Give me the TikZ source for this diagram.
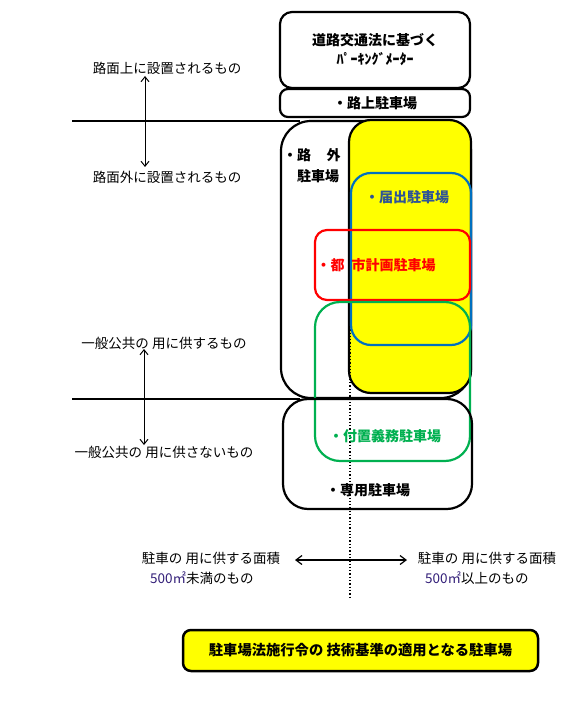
\documentclass[tikz,border=0pt]{standalone}
\usepackage{fontspec}
\setmainfont{Noto Sans CJK JP}
\usetikzlibrary{arrows.meta}
\definecolor{cyel}{RGB}{255,255,0}
\definecolor{cblue}{RGB}{0,112,192}
\definecolor{cbluetxt}{RGB}{46,84,150}
\definecolor{cred}{RGB}{255,0,0}
\definecolor{cgreen}{RGB}{0,176,80}
\definecolor{cnum}{RGB}{50,30,120}
\tikzset{
  box/.style={draw=black, line width=2.2pt, minimum width=#1, inner sep=0pt},
  cbox/.style={line width=2.2pt, inner sep=0pt},
  btxt/.style={font=\fontsize{14}{17}\selectfont\bfseries, inner sep=0pt},
  ltxt/.style={font=\fontsize{13.5}{16}\selectfont, inner sep=0pt},
  hline/.style={line width=2pt},
  vdarrow/.style={{Straight Barb[length=5pt,width=8pt]}-{Straight Barb[length=5pt,width=8pt]}, line width=1pt},
}
\begin{document}
\begin{tikzpicture}[x=1pt,y=-1pt]
\useasboundingbox (0,0) rectangle (577,703);
% horizontal boundary lines
\coordinate (l1a) at (72,121);
\coordinate (l1b) at (300,121);
\coordinate (l2a) at (72,399);
\coordinate (l2b) at (300,399);
\draw[hline] (l1a) -- (l1b);
\draw[hline] (l2a) -- (l2b);
% top boxes
\node[box=190pt, minimum height=76pt, rounded corners=12pt, align=center, font=\fontsize{14}{19}\selectfont\bfseries] (meter) at (375,50) {道路交通法に基づく\\ﾊﾟｰｷﾝｸﾞﾒｰﾀｰ};
\node[box=190pt, minimum height=28pt, rounded corners=8pt, font=\fontsize{14}{17}\selectfont\bfseries] (rojo) at (375,103) {・路上駐車場};
% off-street box
\node[box=190pt, minimum height=277pt, rounded corners=30pt] (rogai) at (376,259.5) {};
% yellow region
\node[box=122pt, minimum height=273pt, rounded corners=22pt, fill=cyel] (yel) at (410,256.5) {};
% dotted divider
\coordinate (d1) at (350,250);
\coordinate (d2) at (350,598);
\draw[line width=1.3pt, dotted] (d1) -- (d2);
% coloured boxes
\node[cbox, draw=cblue, minimum width=120pt, minimum height=172pt, rounded corners=20pt] (todoke) at (411,259) {};
\node[cbox, draw=cred, minimum width=155pt, minimum height=70pt, rounded corners=12pt] (toshi) at (392.5,265) {};
\node[cbox, draw=cgreen, minimum width=155pt, minimum height=159pt, rounded corners=25pt] (fuchi) at (392.5,381.5) {};
\node[box=189pt, minimum height=110pt, rounded corners=25pt] (senyo) at (377.5,454) {};
% box texts
\node[btxt, anchor=west] (rogaiT1) at (283,155) {・路\hspace{1.1em}外};
\node[btxt, anchor=west] (rogaiT2) at (297,176) {駐車場};
\node[btxt, text=cbluetxt] (todokeT) at (407,197) {・届出駐車場};
\node[btxt, text=cred] (toshiT) at (376,265) {・都\hspace{0.5em}市計画駐車場};
\node[btxt, text=cgreen] (fuchiT) at (385,436) {・付置義務駐車場};
\node[btxt] (senyoT) at (368,490) {・専用駐車場};
% left labels and arrows
\node[ltxt] (lab1) at (167,68) {路面上に設置されるもの};
\node[ltxt] (lab2) at (167,177) {路面外に設置されるもの};
\node[ltxt] (lab3) at (164,343) {一般公共の 用に供するもの};
\node[ltxt] (lab4) at (164,452) {一般公共の 用に供さないもの};
\coordinate (a1t) at (145,76);
\coordinate (a1b) at (145,167);
\coordinate (a2t) at (144,349);
\coordinate (a2b) at (144,445);
\draw[vdarrow] (a1t) -- (a1b);
\draw[vdarrow] (a2t) -- (a2b);
% bottom area labels
\node[ltxt] (areaL1) at (211,558) {駐車の 用に供する面積};
\node[ltxt, anchor=west] (areaL2) at (150,578) {\textcolor{cnum}{500㎡}未満のもの};
\node[ltxt] (areaR1) at (487,558) {駐車の 用に供する面積};
\node[ltxt, anchor=west] (areaR2) at (425,578) {\textcolor{cnum}{500㎡}以上のもの};
\coordinate (h1) at (295,560);
\coordinate (h2) at (407,560);
\draw[{Straight Barb[length=6pt,width=9pt]}-{Straight Barb[length=6pt,width=9pt]}, line width=1.2pt] (h1) -- (h2);
% legend box
\node[box=355pt, minimum height=41pt, rounded corners=8pt, fill=cyel, line width=2.5pt, font=\fontsize{14.3}{17}\selectfont\bfseries] (legend) at (360.5,650.5) {駐車場法施行令の 技術基準の適用となる駐車場};
\end{tikzpicture}
\end{document}
